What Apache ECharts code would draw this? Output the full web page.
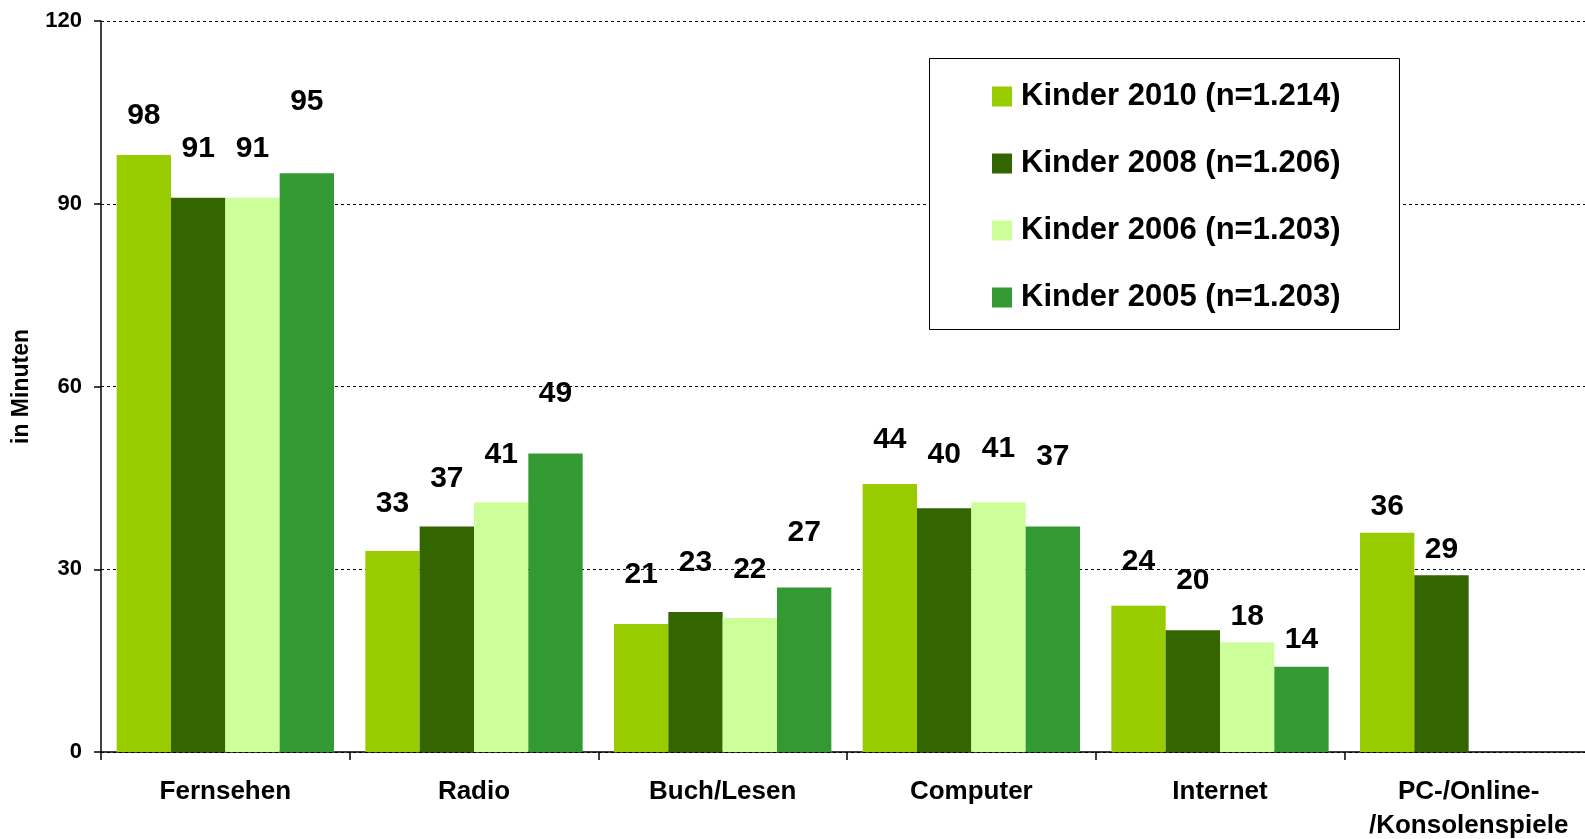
<!DOCTYPE html>
<html>
<head>
<meta charset="utf-8">
<script src="https://cdn.jsdelivr.net/npm/echarts@6/dist/echarts.min.js"></script>
<style>
  html, body { margin: 0; padding: 0; background: #fff; overflow: hidden; }
  /* canvas is a little wider than the page so the plot runs past the right edge */
  #chart { width: 1600px; height: 839px; }
</style>
</head>
<body>
<div id="chart"></div>
<script>
// Mediennutzung von Kindern: Minuten pro Tag je Medium
const categories = ['Fernsehen', 'Radio', 'Buch/Lesen', 'Computer', 'Internet', 'PC-/Online-\n/Konsolenspiele'];
const seriesNames = ['Kinder 2010 (n=1.214)', 'Kinder 2008 (n=1.206)', 'Kinder 2006 (n=1.203)', 'Kinder 2005 (n=1.203)'];
const kinder2010 = [98, 33, 21, 44, 24, 36];
const kinder2008 = [91, 37, 23, 40, 20, 29];
const kinder2006 = [91, 41, 22, 41, 18, null];
const kinder2005 = [95, 49, 27, 37, 14, null];
const yTicks = { min: 0, max: 120, interval: 30 };

// label placement: distance (px) from bar top to label centre
const liftPx2010 = [40, 48, 50, 45, 45, 27];
const liftPx2008 = [50, 49, 50, 55, 50, 27];
const liftPx2006 = [50, 49, 49, 55, 27, 0];
const liftPx2005 = [73, 61, 56, 71, 28, 0];

const colors = ['#99CC00', '#336600', '#CCFF99', '#339933'];
const FONT = '"Liberation Sans", Arial, sans-serif';
const LABEL_SIZE = 30;
const GLYPH_SHIFT = 1; // digits sit slightly above the text box centre

function makeSeries(name, values, lifts, color) {
  return {
    name: name,
    type: 'bar',
    barGap: '0%',
    barCategoryGap: '12.6%',
    itemStyle: { color: color },
    emphasis: { disabled: true },
    data: values.map((v, i) => ({
      value: v,
      label: { offset: [0, -(lifts[i] - LABEL_SIZE / 2) + GLYPH_SHIFT] }
    })),
    label: {
      show: true,
      position: 'top',
      distance: 0,
      color: '#000',
      fontFamily: FONT,
      fontWeight: 'bold',
      fontSize: LABEL_SIZE,
      lineHeight: LABEL_SIZE
    }
  };
}

const chart = echarts.init(document.getElementById('chart'), null, { renderer: 'canvas' });
chart.setOption({
  animation: false,
  backgroundColor: '#fff',
  textStyle: { fontFamily: FONT },
  grid: { left: 101, top: 21, right: 7, bottom: 87, containLabel: false, outerBoundsMode: 'none' },
  graphic: [{
    type: 'rect',
    shape: { x: 929.5, y: 58.5, width: 470, height: 271 },
    style: { fill: '#fff', stroke: '#000', lineWidth: 1 },
    z: 10
  }],
  legend: {
    orient: 'vertical',
    left: 992,
    top: 81,
    padding: 0,
    itemGap: 36,
    itemWidth: 20,
    itemHeight: 20,
    icon: 'rect',
    selectedMode: false,
    z: 20,
    textStyle: {
      fontFamily: FONT,
      fontWeight: 'bold',
      fontSize: 31,
      lineHeight: 31,
      color: '#000',
      padding: [0, 0, 0, 4]
    },
    data: seriesNames
  },
  xAxis: {
    type: 'category',
    data: categories,
    boundaryGap: true,
    axisLine: { lineStyle: { color: '#000', width: 1.5 } },
    axisTick: { show: true, length: 8, lineStyle: { color: '#000', width: 1.5 } },
    axisLabel: {
      interval: 0,
      margin: 23,
      color: '#000',
      fontFamily: FONT,
      fontWeight: 'bold',
      fontSize: 26,
      lineHeight: 34,
      align: 'center'
    }
  },
  yAxis: {
    type: 'value',
    min: yTicks.min,
    max: yTicks.max,
    interval: yTicks.interval,
    name: 'in Minuten',
    nameLocation: 'middle',
    nameGap: 68,
    nameTextStyle: { color: '#000', fontFamily: FONT, fontWeight: 'bold', fontSize: 23 },
    axisLine: { show: true, lineStyle: { color: '#000', width: 1.5 } },
    axisTick: { show: true, length: 7, lineStyle: { color: '#000', width: 1.5 } },
    axisLabel: {
      margin: 19,
      color: '#000',
      fontFamily: FONT,
      fontWeight: 'bold',
      fontSize: 22
    },
    splitLine: { show: true, lineStyle: { color: '#000', width: 1, type: [3, 3] } }
  },
  series: [
    makeSeries(seriesNames[0], kinder2010, liftPx2010, colors[0]),
    makeSeries(seriesNames[1], kinder2008, liftPx2008, colors[1]),
    makeSeries(seriesNames[2], kinder2006, liftPx2006, colors[2]),
    makeSeries(seriesNames[3], kinder2005, liftPx2005, colors[3])
  ]
});
</script>
</body>
</html>
